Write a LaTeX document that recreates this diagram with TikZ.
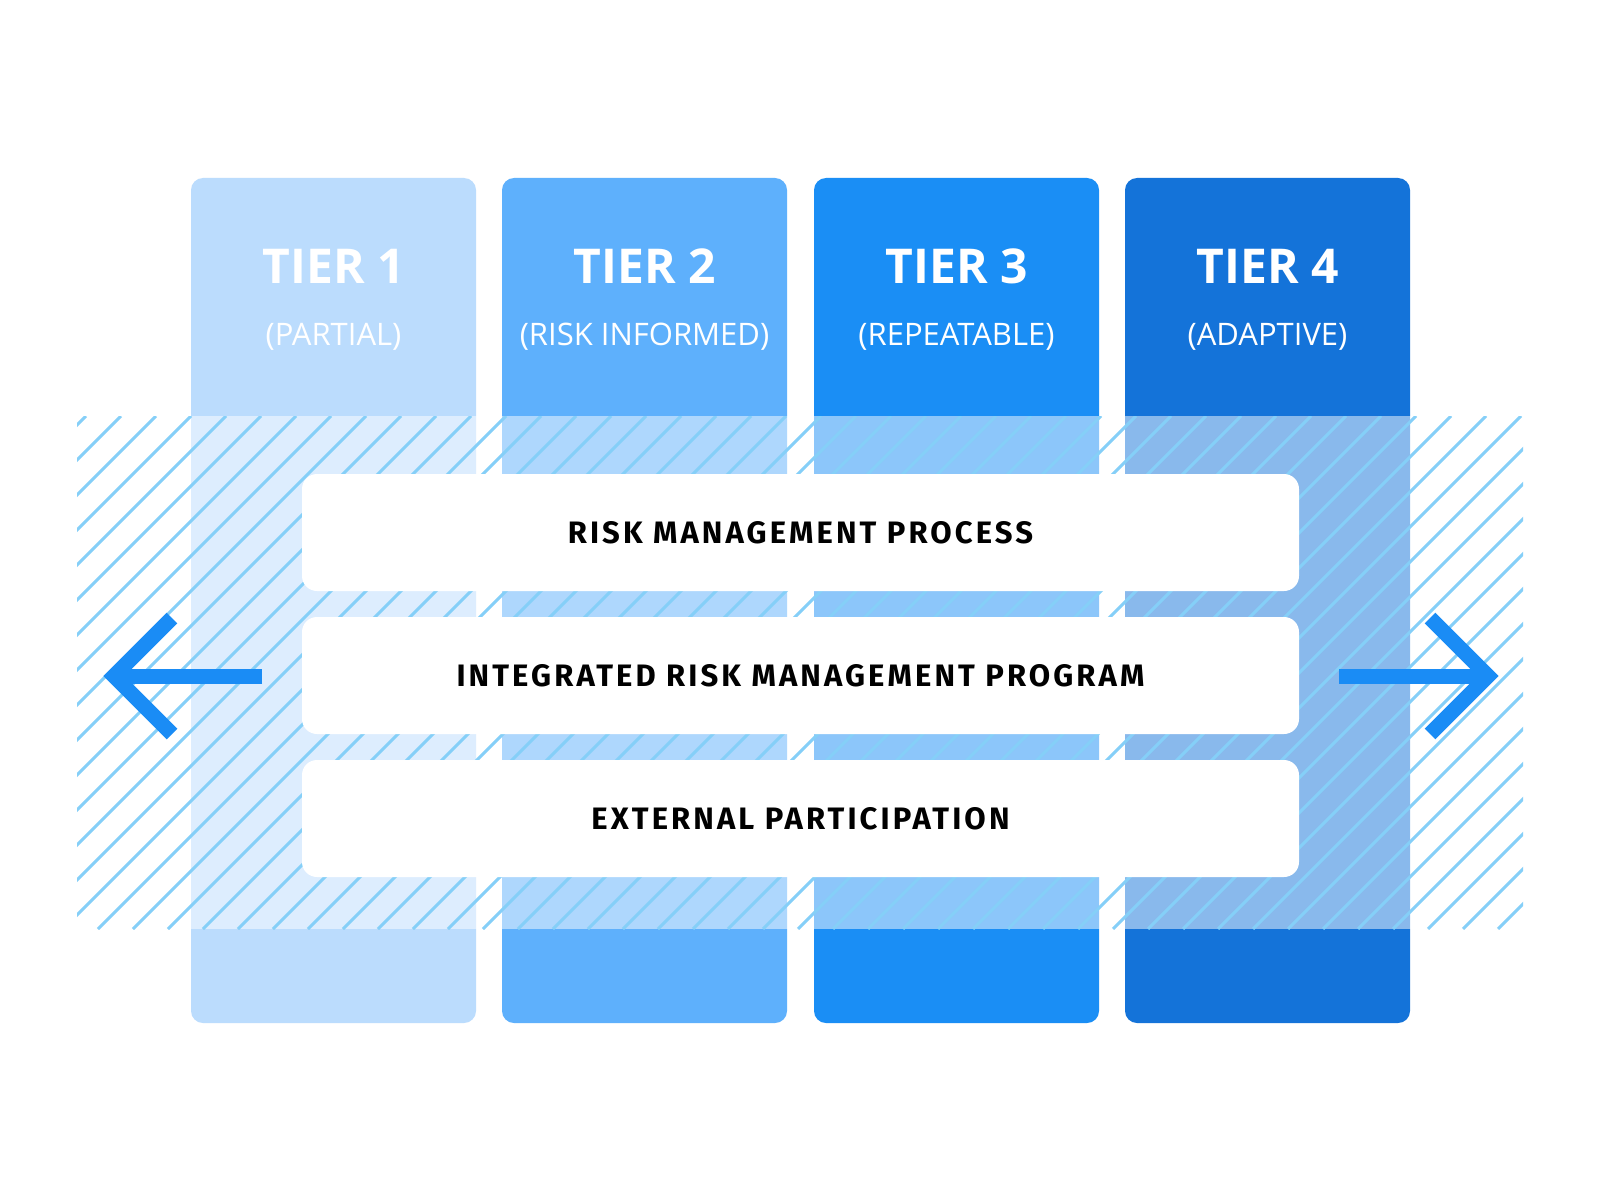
\documentclass[tikz,border=0pt]{standalone}
\usepackage{fontspec}
\setmainfont{Open Sans}
\newfontfamily\tierfont{Open Sans}
\newfontfamily\labfont[LetterSpace=10]{Fira Sans}
\definecolor{cA}{HTML}{BBDCFD}
\definecolor{cB}{HTML}{5EB0FC}
\definecolor{cC}{HTML}{1A8EF5}
\definecolor{cD}{HTML}{1473D9}
\definecolor{hatch}{HTML}{85CFF8}
\definecolor{arrowblue}{HTML}{1A8CF5}
\begin{document}
\begin{tikzpicture}[x=1pt,y=-1pt,
  col/.style={rectangle,rounded corners=12pt,inner sep=0pt,minimum width=285pt,minimum height=845pt},
  procbox/.style={rectangle,rounded corners=15pt,fill=white,inner sep=0pt,minimum width=997pt,minimum height=117pt,font=\labfont\bfseries\fontsize{31}{37}\selectfont,text=black},
  tiertitle/.style={text=white,font=\tierfont\bfseries\fontsize{48}{56}\selectfont,inner sep=0pt},
  tiersub/.style={text=white,font=\tierfont\fontsize{31}{37}\selectfont,inner sep=0pt},
  arrowline/.style={draw=arrowblue,line width=15pt,line cap=butt,line join=miter}]
\useasboundingbox (0,0) rectangle (1601,1201);
\fill[white] (0,0) rectangle (1601,1201);
% columns
\node[col,fill=cA] (t1) at (333.5,600.5) {};
\node[col,fill=cB] (t2) at (644.5,600.5) {};
\node[col,fill=cC] (t3) at (956.5,600.5) {};
\node[col,fill=cD] (t4) at (1267.5,600.5) {};
% hatched band
\begin{scope}
  \clip (77,416) rectangle (1523,929);
  \fill[white,opacity=0.5] (77,416) rectangle (1523,929);
  \foreach \c in {502,537,...,2470} {
    \draw[hatch,line width=3pt] (\c-929,929) -- (\c-416,416);
  }
\end{scope}
% process boxes
\node[procbox] (p1) at (800.5,532.5) {RISK MANAGEMENT PROCESS};
\node[procbox] (p2) at (800.5,675.5) {INTEGRATED RISK MANAGEMENT PROGRAM};
\node[procbox] (p3) at (800.5,818.5) {EXTERNAL PARTICIPATION};
% tier texts
\node[tiertitle] (h1) at (333.5,266) {TIER 1};
\node[tiertitle] (h2) at (644.5,266) {TIER 2};
\node[tiertitle] (h3) at (956.5,266) {TIER 3};
\node[tiertitle] (h4) at (1267.5,266) {TIER 4};
\node[tiersub] (s1) at (333.5,337) {(PARTIAL)};
\node[tiersub] (s2) at (644.5,337) {(RISK INFORMED)};
\node[tiersub] (s3) at (956.5,337) {(REPEATABLE)};
\node[tiersub] (s4) at (1267.5,337) {(ADAPTIVE)};
% arrows
\coordinate (lTip) at (114,676);
\coordinate (lTail) at (262,676);
\coordinate (lUp) at (172,618);
\coordinate (lDn) at (172,734);
\coordinate (rTip) at (1488,676);
\coordinate (rTail) at (1339,676);
\coordinate (rUp) at (1430,618);
\coordinate (rDn) at (1430,734);
\draw[arrowline] (lTail) -- (lTip);
\draw[arrowline] (lUp) -- (lTip) -- (lDn);
\draw[arrowline] (rTail) -- (rTip);
\draw[arrowline] (rUp) -- (rTip) -- (rDn);
\end{tikzpicture}
\end{document}
